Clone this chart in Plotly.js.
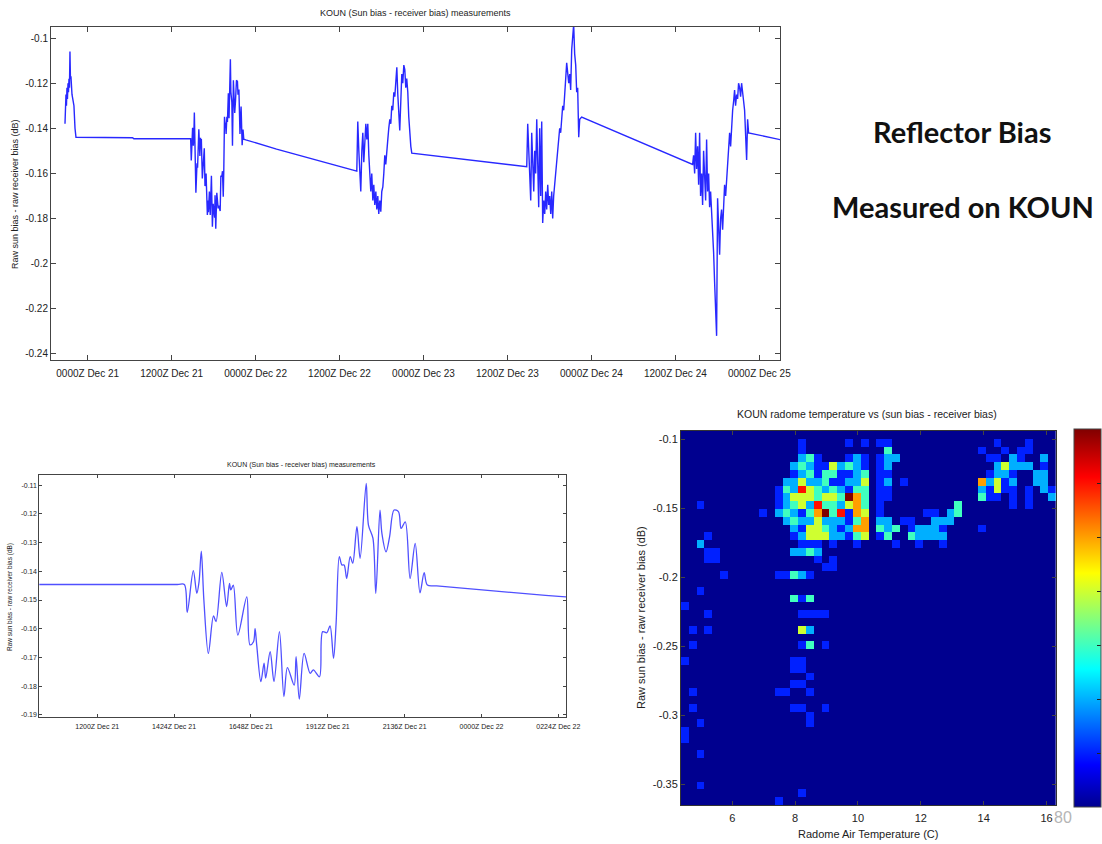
<!DOCTYPE html>
<html><head><meta charset="utf-8">
<script src="https://cdn.plot.ly/plotly-3.0.1.min.js"></script>
<style>html,body{margin:0;padding:0;background:#fff;} #chart{width:1102px;height:844px;}</style>
</head><body><div id="chart"></div>
<script>
// ================= DATA =================
// Hours since 0000Z Dec 21, and (sun bias - receiver bias) in dB
const hoursA = [-3.24,-3.17,-3.10,-3.03,-2.96,-2.89,-2.81,-2.74,-2.67,-2.60,-2.53,-2.46,-2.39,-2.24,-2.10,-1.96,-1.81,-1.67];
const biasA  = [-0.138,-0.128,-0.125,-0.130,-0.122,-0.127,-0.120,-0.124,-0.118,-0.122,-0.106,-0.118,-0.117,-0.125,-0.127,-0.130,-0.140,-0.144];

const hoursFlat = [6.40, 6.60, 10.00, 14.50];
const biasFlat  = [-0.1442, -0.1446, -0.1446, -0.1446];

// Dec 21 afternoon pass (also shown zoomed in the lower-left panel)
const hoursB = [14.72,14.81,15.00,15.11,15.18,15.25,15.33,15.47,15.63,15.71,15.89,16.04,16.13,16.17,16.25,16.39,16.67,16.77,16.88,16.93,16.98,17.11,17.21,17.26,17.40,17.52,17.69,17.83,17.94,18.15,18.21,18.31,18.46,18.65,18.75,18.94,19.04,19.17,19.27,19.38,19.46,19.56,19.64,19.71,19.79,19.90,19.98,20.11,20.21,20.40,20.47,20.61,20.70,20.83,20.89,21.02,21.13,21.27,21.41,21.49,21.62,21.77,21.93,22.08,22.21,22.31,22.60,26.00,27.00];
const biasB  = [-0.1446,-0.1543,-0.1398,-0.1477,-0.1436,-0.1330,-0.1500,-0.1686,-0.1555,-0.1575,-0.1404,-0.1523,-0.1442,-0.1465,-0.1448,-0.1622,-0.1489,-0.1656,-0.1645,-0.1600,-0.1656,-0.1784,-0.1720,-0.1772,-0.1680,-0.1784,-0.1610,-0.1836,-0.1735,-0.1796,-0.1697,-0.1845,-0.1686,-0.1755,-0.1743,-0.1767,-0.1610,-0.1614,-0.1590,-0.1703,-0.1581,-0.1349,-0.1378,-0.1378,-0.1425,-0.1349,-0.1372,-0.1245,-0.1355,-0.1094,-0.1239,-0.1285,-0.1477,-0.1187,-0.1268,-0.1332,-0.1280,-0.1187,-0.1193,-0.1251,-0.1228,-0.1425,-0.1303,-0.1475,-0.1405,-0.1448,-0.1451,-0.1484,-0.1492];

const hoursC = [38.47,38.61,38.76,38.90,39.04,39.19,39.33,39.47,39.61,39.76,39.90,40.04,40.19,40.33,40.47,40.61,40.76,40.90,41.04,41.19,41.33,41.47,41.61,41.76,41.90,42.04,42.19,42.33,42.47,42.61,42.76,42.90,43.04,43.19,43.33,43.47,43.61,43.76,43.90,44.04,44.19,44.33,44.47,44.61,44.76,44.90,45.04,45.19,45.33,45.47,45.61,45.76,45.90,46.04,46.19,46.33];
const biasC  = [-0.159,-0.137,-0.150,-0.158,-0.168,-0.150,-0.142,-0.155,-0.148,-0.138,-0.145,-0.138,-0.152,-0.162,-0.168,-0.160,-0.172,-0.165,-0.174,-0.168,-0.176,-0.170,-0.178,-0.172,-0.177,-0.168,-0.166,-0.160,-0.152,-0.156,-0.148,-0.145,-0.140,-0.136,-0.138,-0.130,-0.132,-0.124,-0.126,-0.118,-0.113,-0.125,-0.135,-0.141,-0.128,-0.116,-0.120,-0.112,-0.114,-0.122,-0.118,-0.124,-0.135,-0.142,-0.148,-0.151];

const hoursD = [62.76,62.90,63.04,63.19,63.33,63.47,63.61,63.76,63.90,64.04,64.19,64.33,64.47,64.61,64.76,64.90,65.04,65.19,65.33,65.47,65.61,65.76,65.90,66.04,66.19,66.33,66.47,66.61,66.76,66.90,67.04,67.19,67.33,67.47,67.61,67.76,67.90,68.04,68.19,68.33,68.47,68.61,68.76,68.90,69.04,69.19,69.33,69.47,69.61,69.76,69.90,70.04,70.19,70.33,70.61];
const biasD  = [-0.157,-0.138,-0.150,-0.162,-0.172,-0.142,-0.155,-0.168,-0.150,-0.160,-0.136,-0.165,-0.175,-0.140,-0.170,-0.137,-0.182,-0.172,-0.178,-0.168,-0.176,-0.165,-0.174,-0.170,-0.178,-0.168,-0.180,-0.170,-0.165,-0.160,-0.157,-0.150,-0.145,-0.140,-0.142,-0.135,-0.130,-0.132,-0.122,-0.118,-0.111,-0.116,-0.120,-0.116,-0.123,-0.105,-0.100,-0.094,-0.107,-0.112,-0.124,-0.122,-0.144,-0.136,-0.135];

const hoursE = [86.47,86.61,86.76,86.90,87.04,87.19,87.33,87.47,87.61,87.76,87.90,88.04,88.19,88.33,88.47,88.61,88.76,88.90,89.04,89.19,89.33,89.47,89.61,89.76,89.90,90.04,90.19,90.33,90.47,90.61,90.76,90.90,91.04,91.19,91.33,91.47,91.61,91.76,91.90,92.04,92.19,92.33,92.47,92.61,92.76,92.90,93.04,93.19,93.33,93.47,93.61,93.76,93.90,94.04,94.19,94.33,94.47,99.67];
const biasE  = [-0.156,-0.152,-0.160,-0.142,-0.158,-0.148,-0.165,-0.142,-0.170,-0.160,-0.174,-0.150,-0.165,-0.172,-0.145,-0.168,-0.160,-0.175,-0.168,-0.178,-0.182,-0.195,-0.208,-0.220,-0.232,-0.171,-0.185,-0.196,-0.180,-0.176,-0.185,-0.172,-0.165,-0.170,-0.163,-0.157,-0.150,-0.142,-0.148,-0.136,-0.132,-0.128,-0.123,-0.130,-0.125,-0.127,-0.120,-0.122,-0.126,-0.120,-0.123,-0.128,-0.132,-0.140,-0.154,-0.136,-0.142,-0.1455];

const topTickHours = [0,12,24,36,48,60,72,84,96];
const topTickText  = ["0000Z Dec 21","1200Z Dec 21","0000Z Dec 22","1200Z Dec 22","0000Z Dec 23","1200Z Dec 23","0000Z Dec 24","1200Z Dec 24","0000Z Dec 25"];
const topYTicks    = [-0.24,-0.22,-0.2,-0.18,-0.16,-0.14,-0.12,-0.1];
const topYText     = ["-0.24","-0.22","-0.2","-0.18","-0.16","-0.14","-0.12","-0.1"];

const zoomTickHours = [12,14.4,16.8,19.2,21.6,24,26.4];
const zoomTickText  = ["1200Z Dec 21","1424Z Dec 21","1648Z Dec 21","1912Z Dec 21","2136Z Dec 21","0000Z Dec 22","0224Z Dec 22"];
const zoomYTicks    = [-0.19,-0.18,-0.17,-0.16,-0.15,-0.14,-0.13,-0.12,-0.11];
const zoomYText     = ["-0.19","-0.18","-0.17","-0.16","-0.15","-0.14","-0.13","-0.12","-0.11"];

// 2-D histogram: radome air temperature (C) vs bias (dB), 48 x 48 bins
const tempMin = 4.37, tempMax = 16.29, nTempBins = 48;
const biasMin = -0.365, biasMax = -0.0942, nBiasBins = 48;
// one string per bias bin, from the highest bias (top) downward: "tempBin:count"
const histRows = [
 "",
 "15:1 21:1 23:1 25:1 26:1 40:1 44:1",
 "15:1 26:3 38:1 41:1 43:1 44:1",
 "15:2 16:3 17:1 21:1 22:2 23:1 25:1 26:2 27:2 39:1 40:1 42:2 43:1 46:2",
 "14:2 15:3 16:2 17:1 18:1 19:4 20:2 21:3 22:2 23:1 25:1 26:2 40:2 41:4 42:2 43:2 44:2 46:1",
 "14:1 15:2 16:3 17:1 18:3 19:3 20:1 21:1 22:2 23:3 25:1 26:1 39:1 40:2 41:2 42:1 45:2 46:2",
 "13:2 14:2 15:4 16:2 17:2 18:3 19:1 20:1 21:2 22:2 23:4 25:1 26:2 28:1 38:5 39:2 40:4 41:1 42:2 45:2 46:2",
 "12:1 13:3 14:2 15:6 16:4 17:3 18:2 19:3 20:2 21:1 22:3 23:3 25:1 26:1 38:2 39:1 40:4 41:1 42:1 44:1 46:2 47:1",
 "12:1 13:2 14:4 15:4 16:4 17:3 18:4 19:4 20:3 21:7 22:5 23:3 25:1 26:1 38:3 39:1 40:1 42:1 44:1 47:2",
 "2:1 12:1 13:2 14:3 15:4 16:2 17:6 18:3 19:3 20:2 21:4 22:5 23:3 25:1 35:3 42:1 44:1",
 "10:1 12:2 13:3 14:2 15:1 16:3 17:5 18:7 19:3 20:6 21:1 22:5 23:4 25:1 31:1 32:1 34:2 35:3",
 "13:2 14:3 15:2 16:2 17:4 18:2 19:2 20:2 21:1 22:3 23:5 25:2 26:2 28:1 29:1 32:2 33:2 34:2",
 "14:2 15:1 16:4 17:4 18:3 19:2 20:1 21:2 22:5 23:5 25:3 26:2 27:3 29:1 30:2 31:2 32:2 33:1 38:1",
 "3:1 14:1 15:2 16:4 17:4 18:4 19:2 20:2 21:1 22:3 23:4 25:1 26:3 29:3 30:2 31:2 32:2 33:2",
 "2:2 15:1 16:1 17:1 19:1 22:1 27:1 30:1 33:1",
 "3:1 4:1 14:2 15:2 16:3 17:2",
 "3:1 4:1 17:1 19:1",
 "18:1 19:1",
 "5:1 12:1 13:1 14:3 15:2 16:1",
 "",
 "2:1",
 "14:3 15:1 16:3",
 "0:1",
 "3:1 15:1 16:1 17:1 18:1",
 "",
 "1:1 3:1 15:4 16:2",
 "",
 "1:1 15:1 16:3 18:1",
 "",
 "0:1 14:1 15:1",
 "14:1 15:1",
 "16:1",
 "14:1 15:1",
 "1:1 12:1 13:1 16:1",
 "",
 "1:1 14:1 15:1 18:1",
 "16:1",
 "2:1 16:1",
 "0:1",
 "0:1",
 "",
 "2:1",
 "", "", "",
 "2:1",
 "15:1",
 "12:1"
];
const heatXTicks = [6,8,10,12,14,16];
const heatYTicks = [-0.35,-0.3,-0.25,-0.2,-0.15,-0.1];
const heatYText  = ["-0.35","-0.3","-0.25","-0.2","-0.15","-0.1"];
const countTicks = [0,1,2,3,4,5,6,7];

// ================= BUILD =================
const hoursAll = [].concat(hoursA, hoursFlat, hoursB, hoursC, hoursD, hoursE);
const biasAll  = [].concat(biasA, biasFlat, biasB, biasC, biasD, biasE);

const dT = (tempMax - tempMin) / nTempBins;
const dB = (biasMax - biasMin) / nBiasBins;
const tempCenters = [], biasCenters = [];
for (let i = 0; i < nTempBins; i++) tempCenters.push(tempMin + (i + 0.5) * dT);
for (let k = 0; k < nBiasBins; k++) biasCenters.push(biasMin + (k + 0.5) * dB);
const z = biasCenters.map(() => tempCenters.map(() => 0));
histRows.forEach((row, j) => {
  if (!row) return;
  row.split(/\s+/).forEach(p => {
    const [c, n] = p.split(':').map(Number);
    z[nBiasBins - 1 - j][c] = n;
  });
});

const jet = [[0,'rgb(0,0,143)'],[0.111,'rgb(0,0,255)'],[0.365,'rgb(0,255,255)'],
             [0.619,'rgb(255,255,0)'],[0.873,'rgb(255,0,0)'],[1,'rgb(128,0,0)']];

const W = 1102, H = 844;
const px = v => v / W, py = v => 1 - v / H;
const FONT = 'Liberation Sans, Arial, sans-serif';

const traces = [
  {type:'scatter', mode:'lines', x:hoursAll, y:biasAll, xaxis:'x', yaxis:'y',
   line:{color:'rgb(40,40,255)', width:1.4}, hoverinfo:'skip'},
  {type:'scatter', mode:'lines', x:hoursAll, y:biasAll, xaxis:'x2', yaxis:'y2',
   line:{color:'rgb(80,80,255)', width:1.3, shape:'spline', smoothing:0.9}, hoverinfo:'skip'},
  {type:'heatmap', x:tempCenters, y:biasCenters, z:z, xaxis:'x3', yaxis:'y3',
   colorscale:jet, zmin:0, zmax:7, zsmooth:false,
   colorbar:{x:px(1074), xanchor:'left', y:py(807), yanchor:'bottom',
     lenmode:'pixels', len:378, thicknessmode:'pixels', thickness:27,
     xpad:0, ypad:0, outlinewidth:1, outlinecolor:'#444',
     ticks:'inside', ticklen:4, tickcolor:'#222', tickvals:countTicks,
     showticklabels:false}}
];

const axCommon = {showline:true, linecolor:'#444', linewidth:1, mirror:'ticks', ticks:'inside',
  tickcolor:'#444', showgrid:false, zeroline:false, fixedrange:true};

function note(text, x, y, font, angle) {
  const a = {text:text, x:px(x), y:py(y), xref:'paper', yref:'paper', xanchor:'center', yanchor:'middle',
             showarrow:false, font:Object.assign({color:'#222'}, font)};
  if (angle) a.textangle = angle;
  return a;
}

const layout = {
  width:W, height:H, margin:{l:0,r:0,t:0,b:0, autoexpand:false},
  paper_bgcolor:'#fff', plot_bgcolor:'#fff', showlegend:false,
  font:{family:FONT, color:'#222'},
  xaxis: Object.assign({}, axCommon, {domain:[px(51), px(780)], range:[-5.24, 98.96],
    tickvals:topTickHours, ticktext:topTickText, ticklen:5, tickfont:{size:10}, ticklabelstandoff:4, anchor:'y'}),
  yaxis: Object.assign({}, axCommon, {domain:[py(360), py(27)], range:[-0.2427, -0.0951],
    tickvals:topYTicks, ticktext:topYText, ticklen:5, tickfont:{size:10}, anchor:'x'}),
  xaxis2: Object.assign({}, axCommon, {domain:[px(39.3), px(566)], range:[10.19, 26.64],
    tickvals:zoomTickHours, ticktext:zoomTickText, ticklen:3, tickfont:{size:7}, ticklabelstandoff:3, anchor:'y2'}),
  yaxis2: Object.assign({}, axCommon, {domain:[py(716.7), py(475)], range:[-0.1906, -0.1065],
    tickvals:zoomYTicks, ticktext:zoomYText, ticklen:3, tickfont:{size:7}, anchor:'x2'}),
  xaxis3: Object.assign({}, axCommon, {domain:[px(681), px(1055.7)], range:[tempMin, tempMax],
    tickvals:heatXTicks, ticklen:4, tickfont:{size:11}, ticklabelstandoff:3, anchor:'y3', linecolor:'#333'}),
  yaxis3: Object.assign({}, axCommon, {domain:[py(805), py(431)], range:[biasMin, biasMax],
    tickvals:heatYTicks, ticktext:heatYText, ticklen:4, tickfont:{size:11}, anchor:'x3', linecolor:'#333'}),
  annotations: [
    note('KOUN (Sun bias - receiver bias) measurements', 415, 13, {size:9}),
    note('Raw sun bias - raw receiver bias (dB)', 15, 194, {size:9}, -90),
    note('KOUN (Sun bias - receiver bias) measurements', 301, 465, {size:7}),
    note('Raw sun bias - raw receiver bias (dB)', 10, 597, {size:6.5}, -90),
    note('KOUN radome temperature vs (sun bias - receiver bias)', 867, 414, {size:10.5}),
    note('Radome Air Temperature (C)', 868, 834, {size:11}),
    note('Raw sun bias - raw receiver bias (dB)', 641, 618, {size:11}, -90),
    note('Reflector Bias', 962, 131, {family:'Lato, sans-serif', size:29, weight:700, color:'#111'}),
    note('Measured on KOUN', 963, 206, {family:'Lato, sans-serif', size:29, weight:700, color:'#111'}),
    note('80', 1063, 817, {size:16, color:'#b5b5b5'})
  ]
};

Plotly.newPlot('chart', traces, layout, {staticPlot:true, displayModeBar:false});
</script></body></html>
